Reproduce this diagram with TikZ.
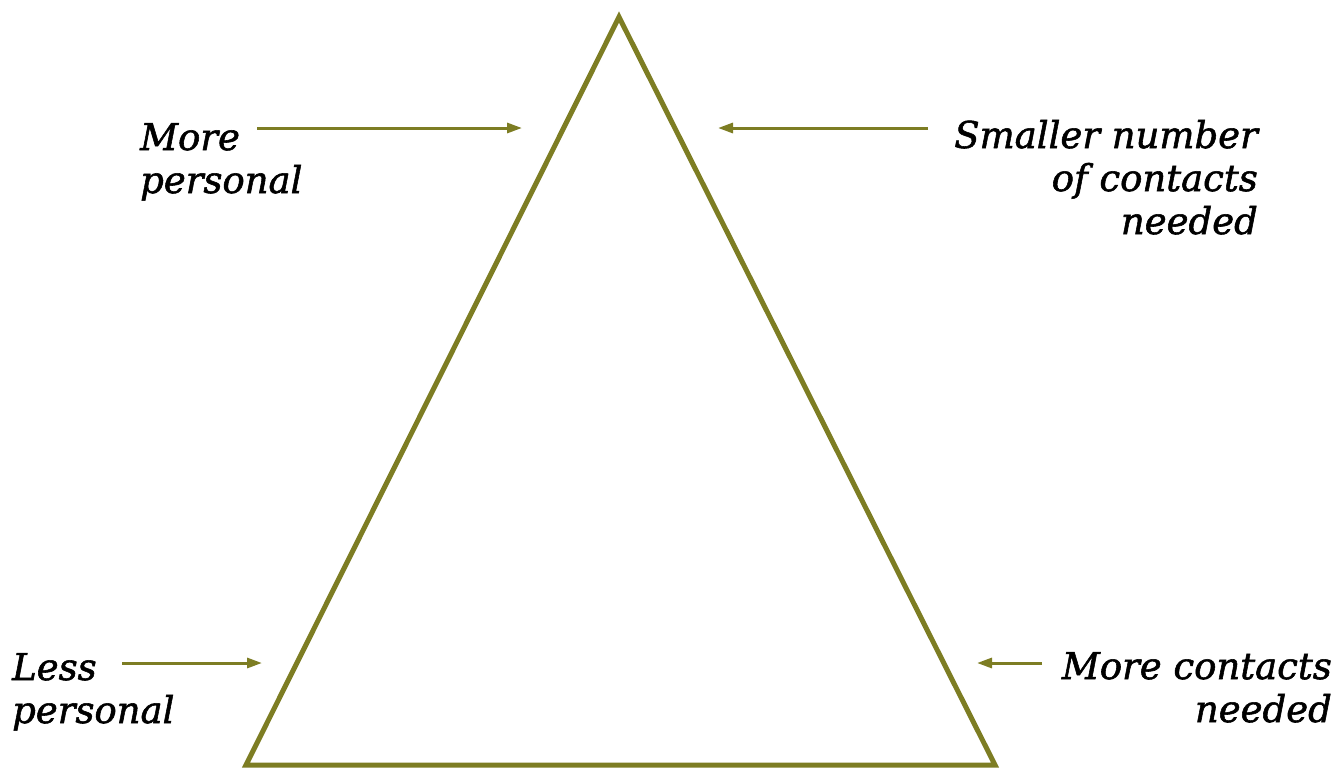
\documentclass[tikz,border=0pt]{standalone}
\usepackage{fontspec}
\setmainfont{DejaVu Serif}
\newfontface\lblface{DejaVu Serif Italic}[FakeBold=1.5]
\usetikzlibrary{arrows.meta}
\definecolor{olive}{RGB}{125,125,35}
\newcommand{\lblfont}{\lblface\fontsize{37}{43}\selectfont}
\tikzset{
  tri/.style={draw=olive, line width=5pt, line join=miter},
  pointer/.style={draw=olive, line width=3pt, -{Triangle[length=15pt,width=10pt]}},
  lbl/.style={font=\lblfont, inner sep=0pt, text=black}
}
\begin{document}
\begin{tikzpicture}[x=1pt,y=-1pt]
\useasboundingbox (0,0) rectangle (1340,771);
\coordinate (apex) at (619,17);
\coordinate (bl) at (246,765);
\coordinate (br) at (995,765);
\draw[tri] (apex) -- (bl) -- (br) -- cycle;

\node[lbl, align=left, anchor=base west] (mp) at (140,193) {More\\personal};
\node[lbl, align=right, anchor=base east] (sn) at (1258,234) {Smaller number\\of contacts\\needed};
\node[lbl, align=left, anchor=base west] (lp) at (12,723) {Less\\personal};
\node[lbl, align=right, anchor=base east] (mc) at (1332,722) {More contacts\\needed};

\coordinate (a1s) at (257,128); \coordinate (a1e) at (522,128);
\coordinate (a2s) at (928,128); \coordinate (a2e) at (718,128);
\coordinate (a3s) at (122,663); \coordinate (a3e) at (262,663);
\coordinate (a4s) at (1042,663); \coordinate (a4e) at (977,663);
\draw[pointer] (a1s) -- (a1e);
\draw[pointer] (a2s) -- (a2e);
\draw[pointer] (a3s) -- (a3e);
\draw[pointer] (a4s) -- (a4e);
\end{tikzpicture}
\end{document}
